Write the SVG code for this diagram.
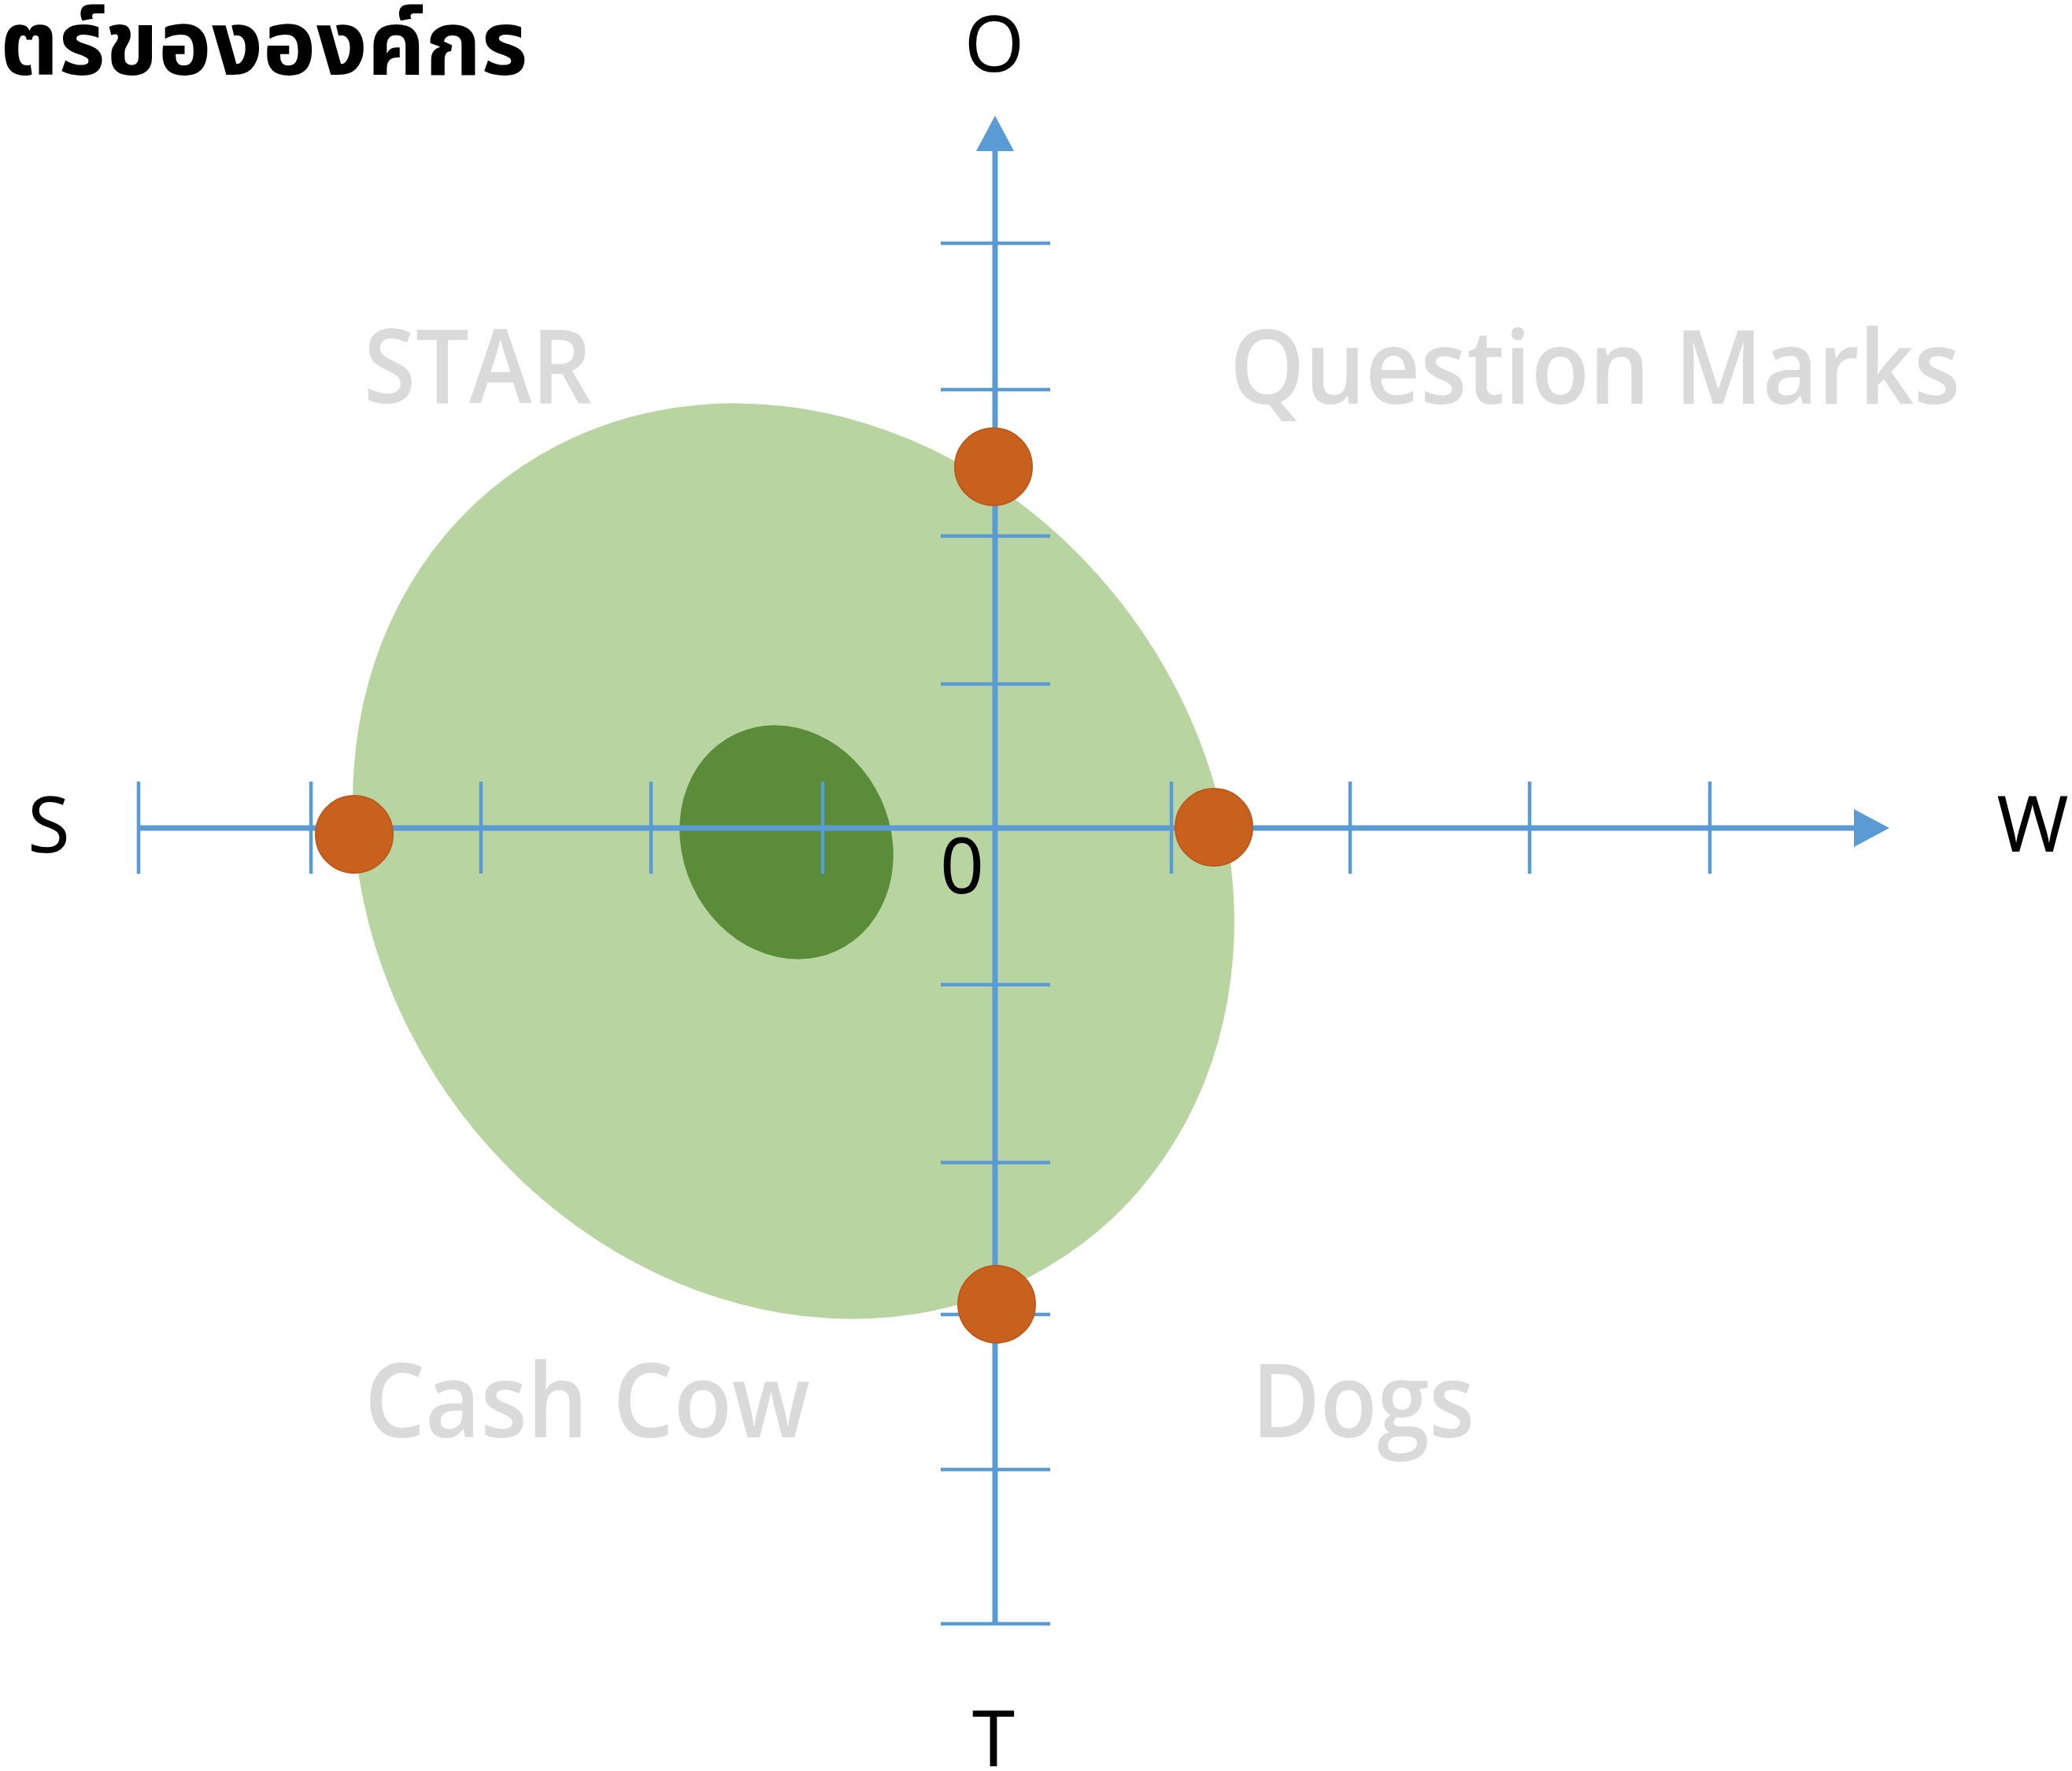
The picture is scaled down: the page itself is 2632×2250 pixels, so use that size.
<svg xmlns="http://www.w3.org/2000/svg" width="2632" height="2250" viewBox="0 0 2632 2250">
<style>
.ax{stroke:#5b9bd5;stroke-width:7;fill:none}
.tk{stroke:#5b9bd5;stroke-width:4.5;fill:none}
.dot{fill:#c8611e;stroke:#bd5a1b;stroke-width:2}
.lbl{font-family:"Noto Sans","Open Sans","DejaVu Sans",sans-serif;font-size:98px;fill:#000}
.quad{font-family:"Open Sans","Noto Sans",sans-serif;font-size:130px;font-weight:600;fill:#dadada}
.title{font-family:"Noto Sans Thai","Noto Sans Thai UI","Noto Sans","DejaVu Sans",sans-serif;font-size:114px;font-weight:bold;fill:#000}
</style>
<defs>
<marker id="arr" markerUnits="userSpaceOnUse" markerWidth="46" markerHeight="50" refX="0" refY="24" orient="auto" viewBox="0 0 46 50">
<path d="M0,0 L45,24 L0,48 z" fill="#5b9bd5"/>
</marker>
</defs>
<rect width="2632" height="2250" fill="#fff"/>
<text class="title" x="0" y="95">ตร์ขององค์กร</text>
<g id="region-light">
<ellipse cx="1008" cy="1094" rx="530" ry="609" transform="rotate(-37 1008 1094)" fill="#b7d4a1"/>
</g>
<g id="region-dark">
<ellipse cx="999" cy="1070" rx="132" ry="152" transform="rotate(-25 999 1070)" fill="#5a8c39"/>
</g>
<g id="connectors">
<line class="ax" x1="1264" y1="2063" x2="1264" y2="192" marker-end="url(#arr)"/>
<line class="ax" x1="176" y1="1052" x2="2355" y2="1052" marker-end="url(#arr)"/>
<g class="tk">
<line x1="1195" y1="309" x2="1334" y2="309"/>
<line x1="1195" y1="495" x2="1334" y2="495"/>
<line x1="1195" y1="681" x2="1334" y2="681"/>
<line x1="1195" y1="869" x2="1334" y2="869"/>
<line x1="1195" y1="1251" x2="1334" y2="1251"/>
<line x1="1195" y1="1477" x2="1334" y2="1477"/>
<line x1="1195" y1="1670" x2="1334" y2="1670"/>
<line x1="1195" y1="1867" x2="1334" y2="1867"/>
<line x1="1195" y1="2063" x2="1334" y2="2063"/>
<line x1="176" y1="993" x2="176" y2="1110"/>
<line x1="395" y1="993" x2="395" y2="1110"/>
<line x1="611" y1="993" x2="611" y2="1110"/>
<line x1="827" y1="993" x2="827" y2="1110"/>
<line x1="1045" y1="993" x2="1045" y2="1110"/>
<line x1="1488" y1="993" x2="1488" y2="1110"/>
<line x1="1715" y1="993" x2="1715" y2="1110"/>
<line x1="1943" y1="993" x2="1943" y2="1110"/>
<line x1="2172" y1="993" x2="2172" y2="1110"/>
</g>
</g>
<g id="dot-o"><circle class="dot" cx="1262" cy="593" r="49"/></g>
<g id="dot-s"><circle class="dot" cx="450" cy="1060" r="49"/></g>
<g id="dot-w"><circle class="dot" cx="1542" cy="1051" r="49"/></g>
<g id="dot-t"><circle class="dot" cx="1266" cy="1657" r="49"/></g>
<g id="labels">
<text class="lbl" x="1263" y="91" text-anchor="middle">O</text>
<text class="lbl" x="62" y="1083" text-anchor="middle">S</text>
<text class="lbl" x="2582" y="1082" text-anchor="middle">W</text>
<text class="lbl" x="1262" y="2244" text-anchor="middle">T</text>
<text class="lbl" x="1222" y="1135" text-anchor="middle">0</text>
</g>
<g id="quadrants">
<text class="quad" x="462" y="512" textLength="290" lengthAdjust="spacingAndGlyphs">STAR</text>
<text class="quad" x="1562" y="513" textLength="928" lengthAdjust="spacingAndGlyphs">Question Marks</text>
<text class="quad" x="463" y="1826" textLength="566" lengthAdjust="spacingAndGlyphs">Cash Cow</text>
<text class="quad" x="1590" y="1826" textLength="283" lengthAdjust="spacingAndGlyphs">Dogs</text>
</g>
</svg>
